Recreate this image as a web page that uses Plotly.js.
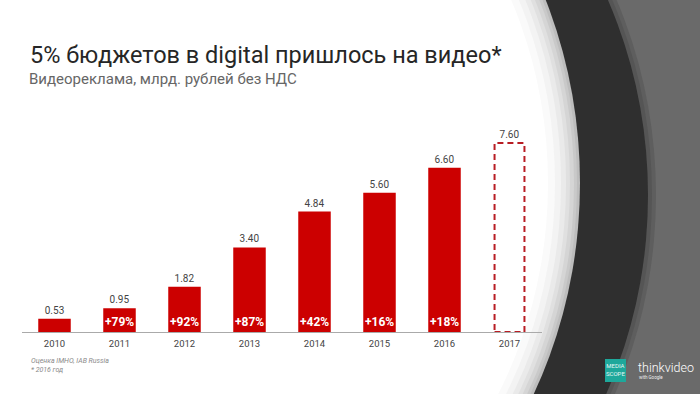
<!DOCTYPE html>
<html>
<head>
<meta charset="utf-8">
<script src="https://cdn.plot.ly/plotly-3.0.1.min.js"></script>
<style>
html,body{margin:0;padding:0;background:#fff;}
#chart{width:700px;height:394px;}
</style>
</head>
<body>
<div id="chart"></div>
<script>
const years = ['2010','2011','2012','2013','2014','2015','2016','2017'];
const values = [0.53, 0.95, 1.82, 3.40, 4.84, 5.60, 6.60, 7.60];
const growth = ['', '+79%', '+92%', '+87%', '+42%', '+16%', '+18%', ''];
const forecastIndex = 7;

const FONT = 'Roboto, "Open Sans", sans-serif';
const W = 700, H = 394, ML = 22, MR = 158, MT = 133, MB = 62;
const PW = W - ML - MR, PH = H - MT - MB;
const px2x = p => (p - ML) / PW;
const py2y = p => (H - MB - p) / PH;

const barWidth = 0.5;

const shapes = [];
function ellipse(cx, cy, a, b, color) {
  shapes.push({type:'circle', xref:'paper', yref:'paper', layer:'below',
    x0: px2x(cx - a), x1: px2x(cx + a), y0: py2y(cy - b), y1: py2y(cy + b),
    fillcolor: color, line:{width:0}});
}
ellipse(248, 195, 408, 455, '#5e5e5e');
ellipse(248, 195, 404, 451, '#555555');
ellipse(248, 195, 400, 447, '#2f2f2f');
const shade = [[0,'#bdbdbd'],[3,'#c9c9c9'],[6,'#d5d5d5'],[10,'#e0e0e0'],[14,'#eaeaea'],[19,'#f3f3f3'],[25,'#fafafa'],[32,'#ffffff']];
shade.forEach(([d,c]) => ellipse(180, 183, 400 - d, 452 - d, c));

shapes.push({type:'rect', xref:'x', yref:'y', layer:'above',
  x0: forecastIndex - barWidth/2 + 0.02, x1: forecastIndex + barWidth/2 - 0.02,
  y0: 0, y1: values[forecastIndex],
  line:{color:'#b81d24', width:2, dash:'6px,4px'}, fillcolor:'rgba(0,0,0,0)'});

shapes.push({type:'rect', xref:'paper', yref:'paper', layer:'above',
  x0: px2x(605), x1: px2x(626), y0: py2y(382), y1: py2y(359),
  fillcolor:'#1ea89b', line:{width:0}});

const annotations = [
  {text:'5% бюджетов в digital пришлось на видео*', x:px2x(28), y:py2y(55), xref:'paper', yref:'paper',
   xanchor:'left', yanchor:'middle', showarrow:false, font:{family:FONT, size:23.5, color:'#262626'}},
  {text:'Видеореклама, млрд. рублей без НДС', x:px2x(27), y:py2y(78.5), xref:'paper', yref:'paper',
   xanchor:'left', yanchor:'middle', showarrow:false, font:{family:FONT, size:15, color:'#666666'}},
  {text:'<i>Оценка IMHO, IAB Russia</i>', x:px2x(29), y:py2y(361), xref:'paper', yref:'paper',
   xanchor:'left', yanchor:'middle', showarrow:false, font:{family:FONT, size:7, color:'#8a8a8a'}},
  {text:'<i>* 2016 год</i>', x:px2x(29), y:py2y(369.5), xref:'paper', yref:'paper',
   xanchor:'left', yanchor:'middle', showarrow:false, font:{family:FONT, size:7, color:'#8a8a8a'}},
  {text:'MEDIA<br>SCOPE', x:px2x(615.5), y:py2y(369), xref:'paper', yref:'paper',
   xanchor:'center', yanchor:'middle', showarrow:false, font:{family:FONT, size:6, color:'#e6f7f5'}},
  {text:'thinkvideo', x:px2x(636), y:py2y(367), xref:'paper', yref:'paper',
   xanchor:'left', yanchor:'middle', showarrow:false, font:{family:FONT, size:12.5, color:'#ffffff', weight:300}},
  {text:'with Google', x:px2x(637), y:py2y(377), xref:'paper', yref:'paper',
   xanchor:'left', yanchor:'middle', showarrow:false, font:{family:FONT, size:4.5, color:'#f0f0f0'}}
];
years.forEach((yr, i) => {
  if (growth[i]) annotations.push({text:growth[i], x:i, y:0, xref:'x', yref:'y',
    xanchor:'center', yanchor:'middle', yshift:10, showarrow:false,
    font:{family:FONT, size:12, color:'#ffffff', weight:'bold'}});
});

const trace = {
  type:'bar', x: years, y: values,
  width: barWidth,
  marker:{color: values.map((v,i) => i === forecastIndex ? 'rgba(0,0,0,0)' : '#cc0000'), line:{width:0}},
  text: values.map(v => v.toFixed(2)), textposition:'outside', constraintext:'none', cliponaxis:false,
  textfont:{family:FONT, size:10, color:'#444444'},
  hoverinfo:'skip'
};

const layout = {
  width:W, height:H, margin:{l:ML, r:MR, t:MT, b:MB, pad:0},
  paper_bgcolor:'#6a6a6a', plot_bgcolor:'rgba(0,0,0,0)',
  showlegend:false,
  xaxis:{type:'category', range:[-0.5, 7.5], showgrid:false, zeroline:false,
    showline:true, linecolor:'#aaaaaa', linewidth:1, ticks:'',
    tickfont:{family:FONT, size:9.5, color:'#444444'}, ticklabelstandoff:3, fixedrange:true},
  yaxis:{range:[0, 8], visible:false, showgrid:false, zeroline:false, fixedrange:true},
  shapes, annotations
};

Plotly.newPlot('chart', [trace], layout, {displayModeBar:false, staticPlot:true});
</script>
</body>
</html>
